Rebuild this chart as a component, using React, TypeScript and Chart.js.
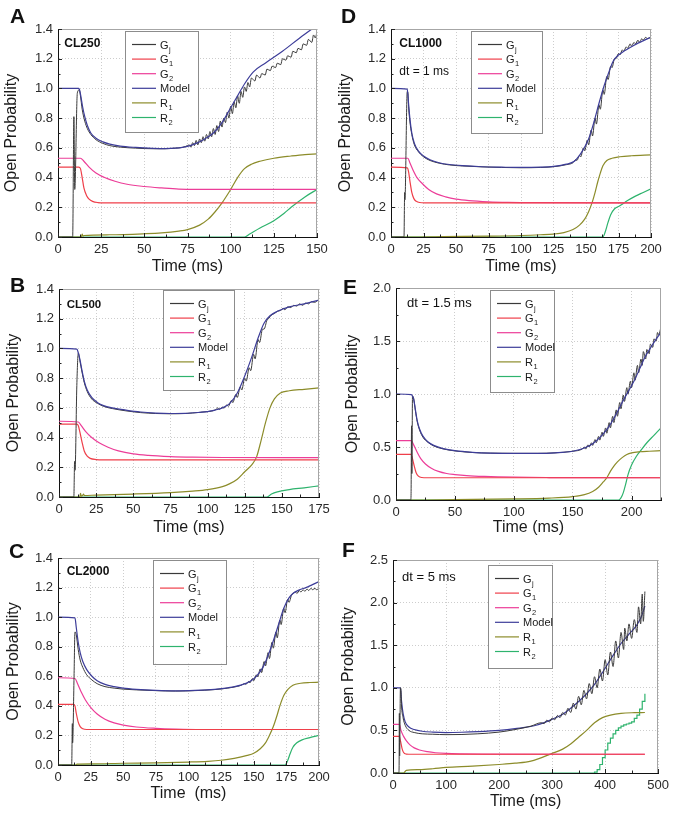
import React, { useEffect, useRef } from 'react';
import { Chart, registerables } from 'chart.js';

Chart.register(...registerables);

type Pt = [number, number];

// ---------------- Panel A : CL250 ----------------
const A_GJ: Pt[] = [
  [0, 0], [8.5, 0], [9.2, 0.81], [9.7, 0.32], [11.2, 0.97], [12.3, 0.99], [13, 0.95], [14, 0.86], [15.5, 0.78], [17, 0.73],
  [19, 0.69], [22, 0.655], [26, 0.63], [30, 0.615], [36, 0.605], [45, 0.598], [55, 0.594], [62, 0.594], [68, 0.598], [72, 0.603],
  [74, 0.61], [76, 0.62], [77, 0.605], [78, 0.635], [79, 0.615], [80, 0.65], [81, 0.62], [82, 0.66], [83, 0.635], [84, 0.675],
  [85, 0.645], [86, 0.69], [87, 0.66], [88, 0.71], [89, 0.675], [90, 0.73], [91, 0.69], [92, 0.75], [93, 0.71], [94, 0.78],
  [95, 0.74], [96, 0.8], [97, 0.77], [98, 0.84], [99, 0.8], [100, 0.88], [101, 0.83], [102, 0.91], [103, 0.87], [104, 0.95],
  [105, 0.9], [106, 0.98], [107, 0.94], [108, 1.01], [109, 0.98], [110, 1.04], [111, 1.01], [112, 1.07], [114, 1.05], [115, 1.09],
  [117, 1.07], [118, 1.1], [120, 1.09], [121, 1.13], [123, 1.12], [124, 1.15], [126, 1.14], [127, 1.17], [129, 1.16], [130, 1.2],
  [132, 1.19], [133, 1.22], [135, 1.21], [136, 1.25], [138, 1.24], [139, 1.27], [141, 1.26], [142, 1.3], [144, 1.29], [145, 1.33],
  [147, 1.31], [148, 1.36], [149, 1.34], [150, 1.38],
];
const A_G1: Pt[] = [[0, 0.47], [12, 0.47], [13, 0.46], [14, 0.4], [15, 0.33], [16.5, 0.28], [18, 0.255], [20, 0.24], [23, 0.232], [27, 0.23], [150, 0.23]];
const A_G2: Pt[] = [[0, 0.53], [13, 0.53], [15, 0.51], [18, 0.47], [22, 0.43], [27, 0.4], [33, 0.375], [40, 0.355], [50, 0.34], [60, 0.33], [70, 0.322], [80, 0.32], [150, 0.32]];
const A_MODEL: Pt[] = [
  [0, 1], [12, 1], [12.5, 0.99], [13.2, 0.95], [14.2, 0.88], [15.5, 0.81], [17, 0.75], [19, 0.7], [22, 0.665], [26, 0.64],
  [30, 0.625], [36, 0.612], [45, 0.603], [55, 0.597], [62, 0.595], [68, 0.598], [75, 0.61], [80, 0.63], [85, 0.66], [90, 0.7],
  [95, 0.77], [100, 0.87], [104, 0.95], [108, 1.03], [113, 1.11], [120, 1.17], [130, 1.25], [140, 1.34], [150, 1.425],
];
const A_R1: Pt[] = [
  [0, 0], [13.5, 0], [14, 0.02], [14.5, 0.006], [15, 0.01], [30, 0.015], [50, 0.022], [60, 0.028], [70, 0.04], [75, 0.05],
  [82, 0.08], [87, 0.12], [91, 0.17], [95, 0.23], [100, 0.32], [104, 0.4], [108, 0.46], [112, 0.49], [117, 0.51], [125, 0.53],
  [135, 0.545], [143, 0.555], [150, 0.56],
];
const A_R2: Pt[] = [[0, 0], [108, 0], [111, 0.02], [117, 0.06], [125, 0.11], [131, 0.16], [135, 0.2], [143, 0.27], [150, 0.32]];

// ---------------- Panel B : CL500 ----------------
const B_GJ: Pt[] = [
  [0, 0], [10, 0], [10.5, 0.24], [10.8, 0.18], [12, 0.75], [13, 0.97], [14, 0.92], [15.5, 0.84], [17, 0.77], [19, 0.71],
  [22, 0.66], [26, 0.63], [30, 0.61], [36, 0.595], [45, 0.58], [55, 0.568], [65, 0.562], [75, 0.56], [85, 0.562], [95, 0.57],
  [100, 0.575], [105, 0.585], [107, 0.6], [108, 0.59], [110, 0.605], [111, 0.598], [113, 0.62], [114, 0.61], [116, 0.65], [117, 0.635],
  [119, 0.69], [120, 0.67], [122, 0.74], [123, 0.72], [125, 0.8], [126, 0.78], [128, 0.87], [129, 0.85], [131, 0.96], [132, 0.93],
  [134, 1.06], [135, 1.04], [137, 1.13], [138, 1.13], [140, 1.19], [141, 1.2], [143, 1.225], [145, 1.235], [147, 1.25], [149, 1.255],
  [151, 1.27], [152, 1.26], [154, 1.28], [156, 1.275], [158, 1.29], [160, 1.285], [162, 1.3], [164, 1.29], [166, 1.305], [168, 1.3],
  [170, 1.315], [172, 1.31], [175, 1.33],
];
const B_G1: Pt[] = [[0, 0.49], [12, 0.49], [13, 0.48], [14, 0.44], [15.5, 0.37], [17, 0.31], [19, 0.275], [21, 0.26], [25, 0.252], [30, 0.25], [175, 0.25]];
const B_G2: Pt[] = [[0, 0.51], [13, 0.505], [15, 0.48], [18, 0.44], [22, 0.4], [27, 0.365], [33, 0.335], [40, 0.31], [50, 0.29], [60, 0.28], [75, 0.272], [90, 0.268], [110, 0.266], [175, 0.265]];
const B_MODEL: Pt[] = [
  [0, 1], [12, 0.995], [13, 0.97], [14, 0.93], [15.5, 0.85], [17, 0.78], [19, 0.72], [22, 0.67], [26, 0.635], [30, 0.615],
  [36, 0.6], [45, 0.585], [55, 0.572], [65, 0.565], [75, 0.562], [85, 0.563], [95, 0.57], [100, 0.575], [105, 0.585], [110, 0.6],
  [115, 0.63], [120, 0.7], [126, 0.84], [130, 0.95], [134, 1.07], [138, 1.17], [142, 1.22], [147, 1.25], [155, 1.28], [165, 1.3],
  [175, 1.325],
];
const B_R1: Pt[] = [
  [0, 0], [14, 0], [14.5, 0.025], [15, 0.005], [16, 0.012], [16.5, 0.02], [17, 0.01], [25, 0.013], [50, 0.02], [75, 0.03],
  [90, 0.04], [100, 0.05], [110, 0.07], [115, 0.09], [120, 0.12], [125, 0.17], [130, 0.22], [133, 0.27], [136, 0.38], [139, 0.5],
  [142, 0.6], [145, 0.66], [149, 0.7], [155, 0.715], [165, 0.725], [175, 0.735],
];
const B_R2: Pt[] = [[0, 0], [140, 0], [143, 0.02], [147, 0.035], [155, 0.05], [165, 0.062], [175, 0.075]];

// ---------------- Panel C : CL2000 ----------------
const C_GJ: Pt[] = [
  [0, 0], [10.5, 0], [11, 0.28], [11.2, 0.15], [12.3, 0.6], [13, 0.9], [14, 0.88], [15.5, 0.78], [17, 0.71], [19, 0.66],
  [22, 0.61], [26, 0.575], [30, 0.55], [36, 0.53], [43, 0.52], [50, 0.513], [60, 0.508], [75, 0.503], [90, 0.5], [105, 0.503],
  [120, 0.51], [130, 0.52], [140, 0.538], [143, 0.55], [144, 0.545], [146, 0.565], [147, 0.555], [149, 0.585], [150, 0.57], [152, 0.61],
  [153, 0.595], [155, 0.65], [156, 0.625], [158, 0.7], [159, 0.67], [161, 0.76], [162, 0.72], [164, 0.83], [165, 0.79], [167, 0.9],
  [168, 0.86], [170, 0.98], [171, 0.95], [173, 1.06], [174, 1.03], [176, 1.12], [177, 1.1], [179, 1.15], [180, 1.16], [182, 1.17],
  [183, 1.16], [185, 1.18], [186, 1.17], [188, 1.185], [189, 1.175], [191, 1.19], [192, 1.18], [194, 1.195], [195, 1.185], [197, 1.195],
  [198, 1.185], [200, 1.195],
];
const C_G1: Pt[] = [[0, 0.41], [12, 0.41], [13, 0.4], [14, 0.35], [15.5, 0.29], [17, 0.26], [19, 0.245], [22, 0.24], [200, 0.24]];
const C_G2: Pt[] = [[0, 0.59], [13, 0.585], [15, 0.55], [18, 0.49], [21, 0.44], [25, 0.39], [30, 0.345], [36, 0.31], [43, 0.285], [50, 0.27], [60, 0.257], [75, 0.248], [90, 0.243], [110, 0.24], [200, 0.24]];
const C_MODEL: Pt[] = [
  [0, 1], [13, 0.995], [14, 0.93], [15.5, 0.83], [17, 0.76], [19, 0.7], [22, 0.645], [26, 0.6], [30, 0.57], [36, 0.545],
  [43, 0.53], [50, 0.52], [60, 0.512], [75, 0.505], [90, 0.502], [105, 0.505], [120, 0.512], [130, 0.522], [140, 0.54], [147, 0.565],
  [152, 0.6], [157, 0.66], [161, 0.74], [165, 0.84], [169, 0.95], [173, 1.06], [177, 1.13], [180, 1.16], [185, 1.185], [190, 1.2],
  [195, 1.22], [200, 1.24],
];
const C_R1: Pt[] = [
  [0, 0], [14, 0], [14.5, 0.006], [25, 0.008], [50, 0.012], [75, 0.015], [100, 0.02], [115, 0.025], [125, 0.032], [135, 0.045],
  [145, 0.065], [150, 0.08], [155, 0.11], [159, 0.15], [162, 0.2], [165, 0.26], [168, 0.34], [170, 0.4], [173, 0.47], [176, 0.51],
  [180, 0.54], [186, 0.553], [193, 0.558], [200, 0.56],
];
const C_R2: Pt[] = [[0, 0], [174, 0], [176, 0.03], [178, 0.08], [180, 0.12], [183, 0.15], [187, 0.17], [193, 0.185], [200, 0.2]];

// ---------------- Panel D : CL1000, dt = 1 ms ----------------
const D_GJ: Pt[] = [
  [0, 0], [10, 0], [10.5, 0.3], [10.7, 0.25], [12.5, 0.98], [13, 0.97], [13.5, 0.88], [14.5, 0.78], [16, 0.69], [18, 0.62],
  [21, 0.575], [25, 0.54], [30, 0.515], [37, 0.497], [45, 0.485], [55, 0.478], [70, 0.472], [85, 0.468], [100, 0.466], [115, 0.468],
  [125, 0.473], [135, 0.487], [140, 0.5], [142, 0.52], [143, 0.515], [145, 0.55], [146, 0.54], [148, 0.6], [149, 0.58], [151, 0.65],
  [152, 0.62], [154, 0.72], [155, 0.68], [157, 0.8], [158, 0.76], [160, 0.89], [161, 0.86], [163, 0.99], [164, 0.96], [166, 1.08],
  [167, 1.06], [169, 1.15], [170, 1.14], [172, 1.2], [173, 1.2], [175, 1.235], [176, 1.225], [178, 1.26], [179, 1.25], [181, 1.28],
  [182, 1.27], [184, 1.3], [185, 1.285], [187, 1.31], [188, 1.3], [190, 1.325], [191, 1.31], [193, 1.335], [194, 1.325], [196, 1.345],
  [197, 1.335], [200, 1.345],
];
const D_G1: Pt[] = [[0, 0.47], [12.5, 0.465], [13.5, 0.44], [14.5, 0.38], [16, 0.3], [17.5, 0.26], [19.5, 0.24], [22, 0.232], [26, 0.23], [200, 0.23]];
const D_G2: Pt[] = [[0, 0.53], [13, 0.53], [14.5, 0.5], [17, 0.45], [20, 0.4], [24, 0.36], [29, 0.32], [35, 0.29], [42, 0.27], [50, 0.255], [60, 0.245], [75, 0.237], [90, 0.233], [110, 0.231], [200, 0.23]];
const D_MODEL: Pt[] = [
  [0, 1], [12.5, 0.995], [13.5, 0.9], [14.5, 0.8], [16, 0.7], [18, 0.63], [21, 0.58], [25, 0.545], [30, 0.52], [37, 0.5],
  [45, 0.488], [55, 0.48], [70, 0.473], [85, 0.47], [100, 0.468], [115, 0.47], [125, 0.475], [135, 0.49], [141, 0.51], [145, 0.55],
  [148, 0.59], [152, 0.66], [156, 0.77], [160, 0.9], [164, 1.02], [168, 1.12], [171, 1.185], [175, 1.225], [180, 1.255], [185, 1.28],
  [190, 1.305], [195, 1.325], [200, 1.345],
];
const D_R1: Pt[] = [
  [0, 0], [15, 0], [40, 0.003], [75, 0.006], [100, 0.01], [115, 0.015], [125, 0.02], [133, 0.03], [140, 0.05], [145, 0.08],
  [149, 0.12], [152, 0.17], [155, 0.24], [157, 0.3], [159, 0.37], [161, 0.43], [163, 0.48], [166, 0.515], [170, 0.53], [176, 0.54],
  [185, 0.547], [200, 0.553],
];
const D_R2: Pt[] = [[0, 0], [163, 0], [165, 0.04], [167, 0.1], [169, 0.15], [172, 0.19], [176, 0.21], [182, 0.245], [188, 0.275], [194, 0.3], [200, 0.325]];

// ---------------- Panel E : dt = 1.5 ms ----------------
const E_GJ: Pt[] = [
  [0, 0], [12.5, 0], [12.8, 0.06], [13.2, 0.7], [13.5, 0.25], [14, 0.98], [15, 0.96], [16.5, 0.84], [18, 0.74], [20, 0.66],
  [23, 0.59], [27, 0.545], [32, 0.51], [40, 0.482], [50, 0.463], [65, 0.448], [80, 0.442], [100, 0.44], [120, 0.44], [135, 0.445],
  [150, 0.46], [158, 0.48], [160, 0.5], [161, 0.48], [163, 0.52], [164, 0.5], [166, 0.54], [167, 0.515], [169, 0.57], [170, 0.54],
  [172, 0.6], [173, 0.565], [175, 0.64], [176, 0.6], [178, 0.68], [179, 0.63], [181, 0.73], [182, 0.68], [184, 0.79], [185, 0.73],
  [187, 0.85], [188, 0.79], [190, 0.92], [191, 0.86], [193, 0.99], [194, 0.93], [196, 1.06], [197, 1.0], [199, 1.12], [200, 1.06],
  [202, 1.2], [203, 1.13], [205, 1.27], [206, 1.2], [208, 1.33], [209, 1.27], [210, 1.4], [212, 1.33], [213, 1.42], [215, 1.38],
  [216, 1.47], [218, 1.44], [219, 1.52], [221, 1.5], [222, 1.58], [223, 1.56], [225, 1.63],
];
const E_G1: Pt[] = [[0, 0.43], [13, 0.43], [14, 0.39], [15.5, 0.32], [17, 0.26], [19, 0.225], [22, 0.212], [26, 0.21], [225, 0.21]];
const E_G2: Pt[] = [[0, 0.56], [13, 0.56], [15, 0.52], [18, 0.45], [21, 0.39], [25, 0.34], [30, 0.3], [36, 0.27], [43, 0.25], [50, 0.24], [60, 0.23], [75, 0.222], [100, 0.215], [130, 0.212], [225, 0.21]];
const E_MODEL: Pt[] = [
  [0, 1], [13, 0.995], [14, 0.98], [15, 0.95], [16.5, 0.85], [18, 0.75], [20, 0.67], [23, 0.6], [27, 0.55], [32, 0.515],
  [40, 0.485], [50, 0.465], [65, 0.45], [80, 0.443], [100, 0.44], [120, 0.44], [135, 0.445], [150, 0.46], [160, 0.49], [167, 0.53],
  [174, 0.6], [180, 0.68], [186, 0.79], [192, 0.92], [197, 1.02], [202, 1.12], [207, 1.24], [212, 1.36], [217, 1.45], [221, 1.52],
  [225, 1.58],
];
const E_R1: Pt[] = [
  [0, 0], [15, 0], [50, 0.004], [100, 0.01], [130, 0.018], [150, 0.032], [160, 0.05], [167, 0.08], [172, 0.12], [176, 0.17],
  [179, 0.21], [182, 0.27], [185, 0.32], [188, 0.36], [192, 0.4], [196, 0.43], [200, 0.445], [207, 0.455], [215, 0.46], [225, 0.465],
];
const E_R2: Pt[] = [[0, 0], [189, 0], [191, 0.02], [193, 0.07], [195, 0.15], [197, 0.24], [200, 0.33], [204, 0.41], [208, 0.47], [213, 0.54], [219, 0.61], [225, 0.68]];

// ---------------- Panel F : dt = 5 ms ----------------
const F_GJ: Pt[] = [
  [0, 0], [11, 0], [11.5, 0.07], [12, 0.7], [12.5, 0.2], [14, 1.0], [15, 0.98], [16, 0.8], [19, 0.65], [23, 0.56],
  [30, 0.5], [40, 0.475], [55, 0.46], [75, 0.455], [100, 0.45], [130, 0.452], [160, 0.46], [200, 0.48], [230, 0.51], [260, 0.55],
  [280, 0.59], [285, 0.58], [290, 0.62], [295, 0.6], [300, 0.645], [305, 0.625], [310, 0.675], [315, 0.65], [320, 0.71], [325, 0.68],
  [330, 0.76], [335, 0.71], [340, 0.82], [345, 0.75], [350, 0.9], [355, 0.8], [360, 0.97], [365, 0.87], [370, 1.05], [375, 0.93],
  [380, 1.13], [385, 1.0], [390, 1.22], [395, 1.08], [400, 1.33], [405, 1.15], [410, 1.42], [415, 1.25], [420, 1.55], [425, 1.35],
  [430, 1.65], [435, 1.45], [437, 1.7], [441, 1.55], [445, 1.75], [450, 1.58], [455, 1.8], [460, 1.65], [463, 1.95], [467, 1.75],
  [470, 2.1], [472, 1.78], [475, 2.13],
];
const F_G1: Pt[] = [[0, 0.43], [12, 0.43], [14, 0.38], [17, 0.29], [20, 0.24], [25, 0.222], [30, 0.22], [475, 0.22]];
const F_G2: Pt[] = [[0, 0.57], [12, 0.57], [15, 0.5], [20, 0.43], [25, 0.38], [32, 0.33], [40, 0.295], [50, 0.27], [65, 0.25], [80, 0.238], [100, 0.23], [130, 0.225], [170, 0.222], [475, 0.22]];
const F_MODEL: Pt[] = [
  [0, 1], [14, 1], [16, 0.85], [19, 0.7], [23, 0.6], [30, 0.54], [40, 0.51], [55, 0.49], [75, 0.48], [100, 0.475],
  [130, 0.478], [160, 0.485], [200, 0.5], [230, 0.52], [270, 0.56], [300, 0.63], [320, 0.69], [335, 0.76], [350, 0.84], [365, 0.93],
  [380, 1.04], [397, 1.2], [415, 1.38], [430, 1.52], [445, 1.63], [459, 1.73], [468, 1.83], [475, 1.96],
];
const F_R1: Pt[] = [
  [0, 0], [20, 0], [25, 0.03], [50, 0.04], [75, 0.05], [100, 0.065], [150, 0.08], [200, 0.1], [230, 0.115], [260, 0.14],
  [300, 0.23], [320, 0.28], [335, 0.34], [350, 0.42], [365, 0.5], [380, 0.59], [395, 0.65], [410, 0.68], [430, 0.7], [455, 0.708],
  [475, 0.71],
];
const F_R2: Pt[] = [
  [0, 0], [375, 0], [380, 0.01], [385, 0.04], [390, 0.1], [395, 0.18], [400, 0.27], [405, 0.35], [410, 0.41], [415, 0.46],
  [420, 0.5], [425, 0.53], [430, 0.55], [435, 0.565], [440, 0.575], [445, 0.585], [450, 0.6], [455, 0.64], [460, 0.68], [465, 0.75],
  [470, 0.84], [475, 0.93],
];

// ---------------- Styling ----------------
const FONT = '"Liberation Sans", Arial, Helvetica, sans-serif';
const COL_GJ = '#3a3a3a';
const COL_G1 = '#ef3f4a';
const COL_G2 = '#ec3d98';
const COL_MODEL = '#3d3d99';
const COL_R1 = '#8c8c2a';
const COL_R2 = '#2eb36d';

const LEGEND_ITEMS = [
  { main: 'G', sub: 'j', color: COL_GJ },
  { main: 'G', sub: '1', color: COL_G1 },
  { main: 'G', sub: '2', color: COL_G2 },
  { main: 'Model', sub: '', color: COL_MODEL },
  { main: 'R', sub: '1', color: COL_R1 },
  { main: 'R', sub: '2', color: COL_R2 },
];

type Label = { text: string; bold: boolean; size: number; dx: number; dy: number };
type Spec = {
  key: string;
  letter: string;
  letterPos: [number, number];
  x0: number;
  plot: { l: number; t: number; r: number; b: number };
  xMax: number; xStep: number; xMinor: number;
  yMax: number; yStep: number; yMinor: number;
  data: { gj: Pt[]; g1: Pt[]; g2: Pt[]; model: Pt[]; r1: Pt[]; r2: Pt[] };
  labels: Label[];
  legend: { dx: number; dy: number; w: number; h: number };
  xTitle: string; xTitlePad: number; yTitlePad: number;
  gjOnTop?: boolean; r2Stepped?: boolean;
};

const SPECS: Spec[] = [
  {
    key: 'A', letter: 'A', letterPos: [10, 5.6], x0: 0, plot: { l: 58, t: 29, r: 317, b: 237 },
    xMax: 150, xStep: 25, xMinor: 12.5, yMax: 1.4, yStep: 0.2, yMinor: 0.1,
    data: { gj: A_GJ, g1: A_G1, g2: A_G2, model: A_MODEL, r1: A_R1, r2: A_R2 },
    labels: [{ text: 'CL250', bold: true, size: 12, dx: 6.3, dy: 14.8 }],
    legend: { dx: 67, dy: 2, w: 73, h: 101 }, xTitle: 'Time (ms)', xTitlePad: 12.5, yTitlePad: 3.5,
  },
  {
    key: 'B', letter: 'B', letterPos: [10, 274.5], x0: 0, plot: { l: 59, t: 289, r: 319, b: 497 },
    xMax: 175, xStep: 25, xMinor: 12.5, yMax: 1.4, yStep: 0.2, yMinor: 0.1,
    data: { gj: B_GJ, g1: B_G1, g2: B_G2, model: B_MODEL, r1: B_R1, r2: B_R2 },
    labels: [{ text: 'CL500', bold: true, size: 11.5, dx: 7.7, dy: 15.5 }],
    legend: { dx: 103.7, dy: 1.3, w: 70.6, h: 100 }, xTitle: 'Time (ms)', xTitlePad: 11, yTitlePad: 6,
  },
  {
    key: 'C', letter: 'C', letterPos: [9, 540.5], x0: 0, plot: { l: 58, t: 558, r: 319, b: 765 },
    xMax: 200, xStep: 25, xMinor: 12.5, yMax: 1.4, yStep: 0.2, yMinor: 0.1,
    data: { gj: C_GJ, g1: C_G1, g2: C_G2, model: C_MODEL, r1: C_R1, r2: C_R2 },
    labels: [{ text: 'CL2000', bold: true, size: 12, dx: 8.7, dy: 13.8 }],
    legend: { dx: 95.3, dy: 1.7, w: 73.4, h: 103.6 }, xTitle: 'Time  (ms)', xTitlePad: 13.5, yTitlePad: 6,
  },
  {
    key: 'D', letter: 'D', letterPos: [341, 5.6], x0: 337, plot: { l: 391, t: 29, r: 651, b: 237 },
    xMax: 200, xStep: 25, xMinor: 12.5, yMax: 1.4, yStep: 0.2, yMinor: 0.1,
    data: { gj: D_GJ, g1: D_G1, g2: D_G2, model: D_MODEL, r1: D_R1, r2: D_R2 },
    labels: [
      { text: 'CL1000', bold: true, size: 12, dx: 8.3, dy: 14.7 },
      { text: 'dt = 1 ms', bold: false, size: 12, dx: 8.3, dy: 43 },
    ],
    legend: { dx: 80.3, dy: 2, w: 70.7, h: 102 }, xTitle: 'Time (ms)', xTitlePad: 12.5, yTitlePad: 1,
  },
  {
    key: 'E', letter: 'E', letterPos: [343, 276], x0: 337, plot: { l: 396, t: 288, r: 661, b: 500 },
    xMax: 225, xStep: 50, xMinor: 25, yMax: 2.0, yStep: 0.5, yMinor: 0.25,
    data: { gj: E_GJ, g1: E_G1, g2: E_G2, model: E_MODEL, r1: E_R1, r2: E_R2 },
    labels: [{ text: 'dt = 1.5 ms', bold: false, size: 13, dx: 11, dy: 15.3 }],
    legend: { dx: 94.3, dy: 1.7, w: 64.4, h: 101.6 }, xTitle: 'Time (ms)', xTitlePad: 14, yTitlePad: 8,
  },
  {
    key: 'F', letter: 'F', letterPos: [342, 539], x0: 337, plot: { l: 393, t: 560, r: 659, b: 773 },
    xMax: 500, xStep: 100, xMinor: 50, yMax: 2.5, yStep: 0.5, yMinor: 0.25,
    data: { gj: F_GJ, g1: F_G1, g2: F_G2, model: F_MODEL, r1: F_R1, r2: F_R2 },
    labels: [{ text: 'dt = 5 ms', bold: false, size: 13, dx: 9, dy: 17.8 }],
    legend: { dx: 94.7, dy: 4.7, w: 64, h: 102.6 }, xTitle: 'Time (ms)', xTitlePad: 13, yTitlePad: 3.5,
    gjOnTop: true, r2Stepped: true,
  },
];

function decorPlugin(s: Spec) {
  return {
    id: 'decor' + s.key,
    afterDraw(chart: any) {
      const { ctx, chartArea: ca, scales } = chart;
      const xs = scales.x;
      const ys = scales.y;
      ctx.save();
      // frame (top / right)
      ctx.strokeStyle = '#a6a6a6';
      ctx.lineWidth = 1;
      ctx.beginPath();
      ctx.moveTo(ca.left, Math.round(ca.top) + 0.5);
      ctx.lineTo(ca.right, Math.round(ca.top) + 0.5);
      ctx.moveTo(Math.round(ca.right) - 0.5, ca.top);
      ctx.lineTo(Math.round(ca.right) - 0.5, ca.bottom);
      ctx.stroke();
      // inward ticks
      ctx.strokeStyle = '#222';
      ctx.beginPath();
      for (let i = 0; i * s.xMinor <= s.xMax + 1e-9; i++) {
        const px = Math.round(xs.getPixelForValue(i * s.xMinor)) + 0.5;
        const len = i % 2 === 0 ? 4 : 2.5;
        ctx.moveTo(px, ca.bottom);
        ctx.lineTo(px, ca.bottom - len);
      }
      for (let i = 0; i * s.yMinor <= s.yMax + 1e-9; i++) {
        const py = Math.round(ys.getPixelForValue(i * s.yMinor)) + 0.5;
        const len = i % 2 === 0 ? 4 : 2.5;
        ctx.moveTo(ca.left, py);
        ctx.lineTo(ca.left + len, py);
      }
      ctx.stroke();
      // annotation labels
      ctx.fillStyle = '#111';
      ctx.textBaseline = 'middle';
      ctx.textAlign = 'left';
      s.labels.forEach((lb) => {
        ctx.font = `${lb.bold ? 'bold ' : ''}${lb.size}px ${FONT}`;
        ctx.fillText(lb.text, ca.left + lb.dx, ca.top + lb.dy);
      });
      // legend box
      const lg = s.legend;
      const bx = Math.round(ca.left + lg.dx);
      const by = Math.round(ca.top + lg.dy);
      ctx.fillStyle = '#fff';
      ctx.fillRect(bx, by, lg.w, lg.h);
      ctx.strokeStyle = '#8c8c8c';
      ctx.lineWidth = 1;
      ctx.strokeRect(bx + 0.5, by + 0.5, Math.round(lg.w), Math.round(lg.h));
      LEGEND_ITEMS.forEach((it, i) => {
        const y = by + 13.5 + i * 14.6;
        ctx.strokeStyle = it.color;
        ctx.lineWidth = 1.2;
        ctx.beginPath();
        ctx.moveTo(bx + 7, y);
        ctx.lineTo(bx + 31, y);
        ctx.stroke();
        ctx.fillStyle = '#1a1a1a';
        ctx.textBaseline = 'alphabetic';
        ctx.font = `11px ${FONT}`;
        const tx = bx + 35;
        const base = y + 4;
        ctx.fillText(it.main, tx, base);
        if (it.sub) {
          const w = ctx.measureText(it.main).width;
          ctx.font = `7.5px ${FONT}`;
          ctx.fillText(it.sub, tx + w + 0.5, base + 3);
        }
      });
      ctx.restore();
    },
  };
}

function toXY(p: Pt[]) {
  return p.map(([x, y]) => ({ x, y }));
}

function Panel({ s }: { s: Spec }) {
  const ref = useRef<HTMLCanvasElement | null>(null);
  const W = 337;
  const top = s.plot.t - 20;
  const H = s.plot.b - s.plot.t + 70;

  useEffect(() => {
    const canvas = ref.current;
    if (!canvas) return;
    const line = (label: string, pts: Pt[], color: string, width: number, extra: any = {}) => ({
      label,
      data: toXY(pts),
      borderColor: color,
      backgroundColor: color,
      borderWidth: width,
      pointRadius: 0,
      fill: false,
      cubicInterpolationMode: 'monotone',
      ...extra,
    });
    const gj = line('Gj', s.data.gj, COL_GJ, 1);
    const model = line('Model', s.data.model, COL_MODEL, 1.2);
    const rest = [
      line('G1', s.data.g1, COL_G1, 1.2),
      line('G2', s.data.g2, COL_G2, 1.2),
      line('R1', s.data.r1, COL_R1, 1.2),
      line('R2', s.data.r2, COL_R2, 1.2, s.r2Stepped ? { stepped: 'before', cubicInterpolationMode: 'default' } : {}),
    ];
    const datasets = s.gjOnTop ? [gj, model, ...rest] : [model, gj, ...rest];

    const chart = new Chart(canvas, {
      type: 'line',
      data: { datasets },
      options: {
        animation: false,
        responsive: false,
        maintainAspectRatio: false,
        devicePixelRatio: 1,
        events: [],
        layout: { padding: { left: 0, top: 20, right: W - (s.plot.r - s.x0), bottom: 0 } },
        plugins: { legend: { display: false }, tooltip: { enabled: false }, title: { display: false } },
        scales: {
          x: {
            type: 'linear',
            min: 0,
            max: s.xMax,
            ticks: {
              stepSize: s.xStep,
              includeBounds: false,
              autoSkip: false,
              maxRotation: 0,
              padding: 5,
              color: '#2a2a2a',
              font: { size: 13, family: FONT },
              callback: (v: any) => String(v),
            },
            grid: { color: '#cdcdcd', drawTicks: false, lineWidth: 1 },
            border: { display: true, color: '#111', width: 1, dash: [1, 2] },
            title: {
              display: true,
              text: s.xTitle,
              color: '#1a1a1a',
              font: { size: 16, family: FONT, lineHeight: 1 },
              padding: { top: 0, bottom: s.xTitlePad },
            },
            afterFit: (sc: any) => { sc.height = 50; },
          },
          y: {
            type: 'linear',
            min: 0,
            max: s.yMax,
            ticks: {
              stepSize: s.yStep,
              includeBounds: false,
              autoSkip: false,
              padding: 5,
              color: '#2a2a2a',
              font: { size: 13, family: FONT },
              callback: (v: any) => Number(v).toFixed(1),
            },
            grid: { color: '#cdcdcd', drawTicks: false, lineWidth: 1 },
            border: { display: true, color: '#111', width: 1, dash: [1, 2] },
            title: {
              display: true,
              text: 'Open Probability',
              color: '#1a1a1a',
              font: { size: 16, family: FONT, lineHeight: 1 },
              padding: { top: s.yTitlePad, bottom: 0 },
            },
            afterFit: (sc: any) => { sc.width = s.plot.l - s.x0; },
          },
        },
      } as any,
      plugins: [decorPlugin(s)],
    } as any);
    return () => chart.destroy();
  }, []);

  return (
    <canvas
      ref={ref}
      width={W}
      height={H}
      style={{ position: 'absolute', left: s.x0, top, width: W, height: H }}
    />
  );
}

export default function App() {
  return (
    <div style={{ position: 'absolute', left: 0, top: 0, width: 674, height: 816, background: '#fff', overflow: 'hidden' }}>
      {SPECS.map((s) => (
        <Panel key={s.key} s={s} />
      ))}
      {SPECS.map((s) => (
        <div
          key={'L' + s.key}
          style={{
            position: 'absolute',
            left: s.letterPos[0],
            top: s.letterPos[1] - 0.5,
            font: `bold 21px ${FONT}`,
            lineHeight: '21px',
            color: '#111',
          }}
        >
          {s.letter}
        </div>
      ))}
    </div>
  );
}
